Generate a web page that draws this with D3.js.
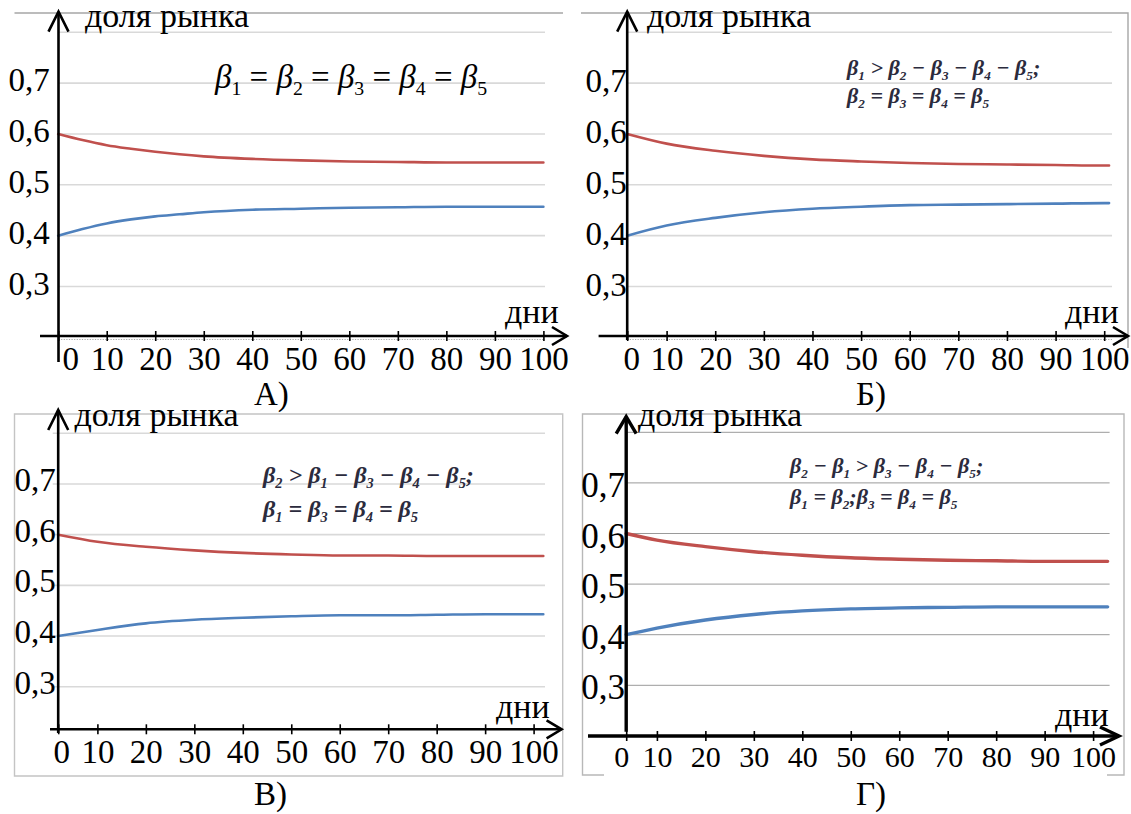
<!DOCTYPE html>
<html>
<head>
<meta charset="utf-8">
<script src="https://cdn.jsdelivr.net/npm/d3@7"></script>
<style>
  body { margin: 0; background: #fff; }
  .formula { font-weight: bold; font-style: italic; }
</style>
</head>
<body>
<div id="wrapper"></div>
<script>
// ---- data ----
const tickDays = [0, 10, 20, 30, 40, 50, 60, 70, 80, 90, 100];
const yTicks = [0.3, 0.4, 0.5, 0.6, 0.7];
const gridValues = [0.3, 0.4, 0.5, 0.6, 0.7, 0.8];
const panelNames = [`А)`, `Б)`, `В)`, `Г)`];
const yTitle = `доля рынка`;
const xTitle = `дни`;

const daysA = [0, 5, 10, 15, 20, 25, 30, 40, 50, 60, 70, 80, 90, 100];
const redA  = [0.600, 0.588, 0.578, 0.571, 0.565, 0.560, 0.556, 0.551, 0.548, 0.546, 0.545, 0.544, 0.544, 0.544];
const blueA = [0.400, 0.413, 0.424, 0.432, 0.438, 0.442, 0.446, 0.451, 0.453, 0.455, 0.456, 0.457, 0.457, 0.457];

const daysB = [0, 10, 20, 30, 40, 50, 60, 70, 80, 90, 100, 101];
const redB  = [0.600, 0.581, 0.567, 0.557, 0.550, 0.546, 0.543, 0.541, 0.540, 0.539, 0.538, 0.538];
const blueB = [0.400, 0.420, 0.435, 0.446, 0.453, 0.457, 0.460, 0.461, 0.462, 0.463, 0.464, 0.464];

const daysC = [0, 10, 20, 30, 40, 50, 60, 70, 80, 90, 100, 102];
const redC  = [0.600, 0.586, 0.576, 0.569, 0.564, 0.561, 0.559, 0.559, 0.558, 0.558, 0.558, 0.558];
const blueC = [0.400, 0.412, 0.425, 0.432, 0.436, 0.439, 0.441, 0.441, 0.442, 0.443, 0.443, 0.443];

const daysD = [0, 10, 20, 30, 40, 50, 60, 70, 80, 90, 100, 103];
const redD  = [0.600, 0.587, 0.574, 0.564, 0.557, 0.552, 0.549, 0.547, 0.546, 0.545, 0.545, 0.545];
const blueD = [0.400, 0.413, 0.429, 0.440, 0.447, 0.451, 0.453, 0.454, 0.455, 0.455, 0.455, 0.455];

const formulaA = [`β_1 = β_2 = β_3 = β_4 = β_5`];
const formulaB = [`β_1 > β_2 − β_3 − β_4 − β_5;`, `β_2 = β_3 = β_4 = β_5`];
const formulaC = [`β_2 > β_1 − β_3 − β_4 − β_5;`, `β_1 = β_3 = β_4 = β_5`];
const formulaD = [`β_2 − β_1 > β_3 − β_4 − β_5;`, `β_1 = β_2;β_3 = β_4 = β_5`];

const red = `#c0504d`;
const blue = `#4f81bd`;
const serif = `"Liberation Serif", "DejaVu Serif", "Noto Serif", serif`;

// ---- layout of the four panels ----
const panels = [
  {
    name: panelNames[0], days: daysA, red: redA, blue: blueA, formula: formulaA,
    xDomain: [0, 100], xRange: [58.2, 543.4], yRange: [286.5, 32.3],
    border: `M14.5,13H563`, borderColor: `#a6a6a6`,
    gridX: [58, 545], gridColor: `#d9d9d9`, gridWidth: 1.6,
    yAxisX: 58.5, yTop: 11.7, yBottom: 362, xAxisY: 336, xStart: 40, xEnd: 567, dotted: true,
    axisWidth: 2.6, lineWidth: 2.6, arrowY: [10, 20], arrowX: [15, 9],
    xLabelY: 370, xLabelSize: 33, zeroDx: 12, yLabelX: 29, yLabelDy: 8, yLabelSize: 33,
    yTitleX: 85, yTitleY: 27, xTitleX: 505, xTitleY: 323, nameX: 254, nameY: 405,
    formulaX: 215, formulaY: [88], formulaSize: 33, formulaBold: false,
  },
  {
    name: panelNames[1], days: daysB, red: redB, blue: blueB, formula: formulaB,
    xDomain: [0, 10, 100], xRange: [627.2, 666.6, 1104.2], yRange: [286.5, 32.3],
    border: `M581,13H1128V348`, borderColor: `#a6a6a6`,
    gridX: [627, 1112], gridColor: `#d9d9d9`, gridWidth: 1.6,
    yAxisX: 627.2, yTop: 11.7, yBottom: 340, xAxisY: 336, xStart: 598.6, xEnd: 1128, dotted: true,
    axisWidth: 2.6, lineWidth: 2.6, arrowY: [10, 20], arrowX: [15, 9],
    xLabelY: 370, xLabelSize: 33, zeroDx: 4, yLabelX: 606, yLabelDy: 9, yLabelSize: 33,
    yTitleX: 647, yTitleY: 27, xTitleX: 1065, xTitleY: 323, nameX: 856, nameY: 405,
    formulaX: 847, formulaY: [75, 103], formulaSize: 22, formulaBold: true,
  },
  {
    name: panelNames[2], days: daysC, red: redC, blue: blueC, formula: formulaC,
    xDomain: [0, 10, 100], xRange: [58.2, 97.4, 533.6], yRange: [686.7, 433.3],
    border: `M14.5,414H562.7V776H14.5Z`, borderColor: `#c4c4c4`,
    gridX: [52.7, 545], gridColor: `#d9d9d9`, gridWidth: 1.6,
    yAxisX: 58.2, yTop: 410, yBottom: 733, xAxisY: 729.3, xStart: 50, xEnd: 561.6, dotted: false,
    axisWidth: 2.6, lineWidth: 2.6, arrowY: [10, 20], arrowX: [15, 9],
    xLabelY: 763, xLabelSize: 33, zeroDx: 3, yLabelX: 35, yLabelDy: 7, yLabelSize: 33,
    yTitleX: 74.5, yTitleY: 425.5, xTitleX: 496, xTitleY: 717.6, nameX: 254, nameY: 805,
    formulaX: 263, formulaY: [483, 517], formulaSize: 24, formulaBold: true,
  },
  {
    name: panelNames[3], days: daysD, red: redD, blue: blueD, formula: formulaD,
    xDomain: [0, 10, 100], xRange: [626.2, 656.9, 1093.1], yRange: [685.3, 432.3],
    border: `M604,775H582.5V414H1124V775H1107`, borderColor: `#b8b8b8`,
    gridX: [627.2, 1109.6], gridColor: `#9a9a9a`, gridWidth: 1,
    yAxisX: 626.2, yTop: 416.7, yBottom: 731.7, xAxisY: 736, xStart: 588, xEnd: 1119, dotted: false,
    axisWidth: 3.4, lineWidth: 3.4, arrowY: [10, 17], arrowX: [19, 9],
    xLabelY: 766.7, xLabelSize: 30, zeroDx: -5, yLabelX: 603, yLabelDy: 14, yLabelSize: 35,
    yTitleX: 638, yTitleY: 425.6, xTitleX: 1055, xTitleY: 725.6, nameX: 856, nameY: 805,
    formulaX: 790, formulaY: [473, 504], formulaSize: 22, formulaBold: true,
  },
];

const svg = d3.select(`#wrapper`)
  .append(`svg`)
  .attr(`width`, 1131)
  .attr(`height`, 814);

const fmt = d3.formatLocale({decimal: `,`, thousands: ` `, grouping: [3], currency: [``, ``]}).format(`.1f`);

const label = (sel, size) => sel
  .style(`font-family`, serif)
  .style(`font-size`, `${size}px`)
  .style(`fill`, `#000`);

// writes "β_1" style strings with real subscripts
const addFormula = (g, str, x, y, size, bold) => {
  const t = g.append(`text`)
    .attr(`x`, x)
    .attr(`y`, y)
    .attr(`class`, bold ? `formula` : null)
    .style(`white-space`, `pre`)
    .call(label, size)
    .style(`fill`, bold ? `#2b2b3d` : `#000`);
  let shift = 0;
  str.split(/(_\d|β)/).filter(s => s.length).forEach(part => {
    const span = t.append(`tspan`);
    if (part[0] === `_`) {
      span.attr(`dy`, size * 0.22 - shift).style(`font-size`, `${size * 0.6}px`).text(part.slice(1));
      if (!bold) span.style(`font-style`, `normal`);
      shift = size * 0.22;
    } else {
      if (shift) span.attr(`dy`, -shift);
      shift = 0;
      if (!bold && part === `β`) span.style(`font-style`, `italic`);
      span.text(part);
    }
  });
};

panels.forEach(p => {
  const x = d3.scaleLinear().domain(p.xDomain).range(p.xRange);
  const y = d3.scaleLinear().domain([0.3, 0.8]).range(p.yRange);
  const g = svg.append(`g`);

  g.append(`path`)
    .attr(`d`, p.border)
    .attr(`fill`, `none`)
    .attr(`stroke`, p.borderColor)
    .attr(`stroke-width`, 1.4);

  g.selectAll(`.grid`)
    .data(gridValues)
    .join(`line`)
    .attr(`class`, `grid`)
    .attr(`x1`, p.gridX[0])
    .attr(`x2`, p.gridX[1])
    .attr(`y1`, d => y(d))
    .attr(`y2`, d => y(d))
    .attr(`stroke`, p.gridColor)
    .attr(`stroke-width`, p.gridWidth);

  if (p.dotted) {
    g.append(`line`)
      .attr(`x1`, p.yAxisX)
      .attr(`x2`, p.gridX[1])
      .attr(`y1`, p.xAxisY + 3.5)
      .attr(`y2`, p.xAxisY + 3.5)
      .attr(`stroke`, `#aaa`)
      .attr(`stroke-width`, 1.2)
      .attr(`stroke-dasharray`, `1.2 1.4`);
  }

  const line = d3.line()
    .x((d, i) => x(p.days[i]))
    .y(d => y(d))
    .curve(d3.curveMonotoneX);

  [[p.red, red], [p.blue, blue]].forEach(([vals, c]) => {
    g.append(`path`)
      .attr(`d`, line(vals))
      .attr(`fill`, `none`)
      .attr(`stroke`, c)
      .attr(`stroke-width`, p.lineWidth)
      .attr(`stroke-linecap`, `round`);
  });

  // y tick labels
  g.selectAll(`.ylab`)
    .data(yTicks)
    .join(`text`)
    .attr(`class`, `ylab`)
    .attr(`x`, p.yLabelX)
    .attr(`y`, d => y(d) + p.yLabelDy)
    .attr(`text-anchor`, `middle`)
    .call(label, p.yLabelSize)
    .text(fmt);

  // x axis ticks and labels
  const ax = g.append(`g`)
    .attr(`transform`, `translate(0, ${p.xAxisY})`)
    .call(d3.axisBottom(x).tickValues(tickDays).tickSize(5).tickSizeOuter(0));
  ax.attr(`font-family`, null);
  ax.select(`.domain`).remove();
  ax.selectAll(`.tick line`)
    .attr(`y1`, -5)
    .attr(`stroke`, `#000`)
    .attr(`stroke-width`, 1.6);
  ax.selectAll(`.tick text`)
    .attr(`y`, p.xLabelY - p.xAxisY)
    .attr(`dy`, 0)
    .attr(`dx`, d => d === 0 ? p.zeroDx : 0)
    .call(label, p.xLabelSize);

  // hand drawn axes with arrows
  g.append(`line`)
    .attr(`x1`, p.xStart).attr(`x2`, p.xEnd)
    .attr(`y1`, p.xAxisY).attr(`y2`, p.xAxisY)
    .attr(`stroke`, `#000`).attr(`stroke-width`, p.axisWidth);
  g.append(`path`)
    .attr(`d`, `M${p.xEnd - p.arrowX[0]},${p.xAxisY - p.arrowX[1]}L${p.xEnd},${p.xAxisY}L${p.xEnd - p.arrowX[0]},${p.xAxisY + p.arrowX[1]}`)
    .attr(`fill`, `none`).attr(`stroke`, `#000`).attr(`stroke-width`, p.axisWidth);
  g.append(`line`)
    .attr(`x1`, p.yAxisX).attr(`x2`, p.yAxisX)
    .attr(`y1`, p.yTop).attr(`y2`, p.yBottom)
    .attr(`stroke`, `#000`).attr(`stroke-width`, p.axisWidth);
  g.append(`path`)
    .attr(`d`, `M${p.yAxisX - p.arrowY[0]},${p.yTop + p.arrowY[1]}L${p.yAxisX},${p.yTop}L${p.yAxisX + p.arrowY[0]},${p.yTop + p.arrowY[1]}`)
    .attr(`fill`, `none`).attr(`stroke`, `#000`).attr(`stroke-width`, p.axisWidth);

  // titles
  g.append(`text`).attr(`x`, p.yTitleX).attr(`y`, p.yTitleY).call(label, 34).text(yTitle);
  g.append(`text`).attr(`x`, p.xTitleX).attr(`y`, p.xTitleY).call(label, 34).text(xTitle);
  g.append(`text`).attr(`x`, p.nameX).attr(`y`, p.nameY).call(label, 33).text(p.name);

  p.formula.forEach((f, i) => addFormula(g, f, p.formulaX, p.formulaY[i], p.formulaSize, p.formulaBold));
});
</script>
</body>
</html>
